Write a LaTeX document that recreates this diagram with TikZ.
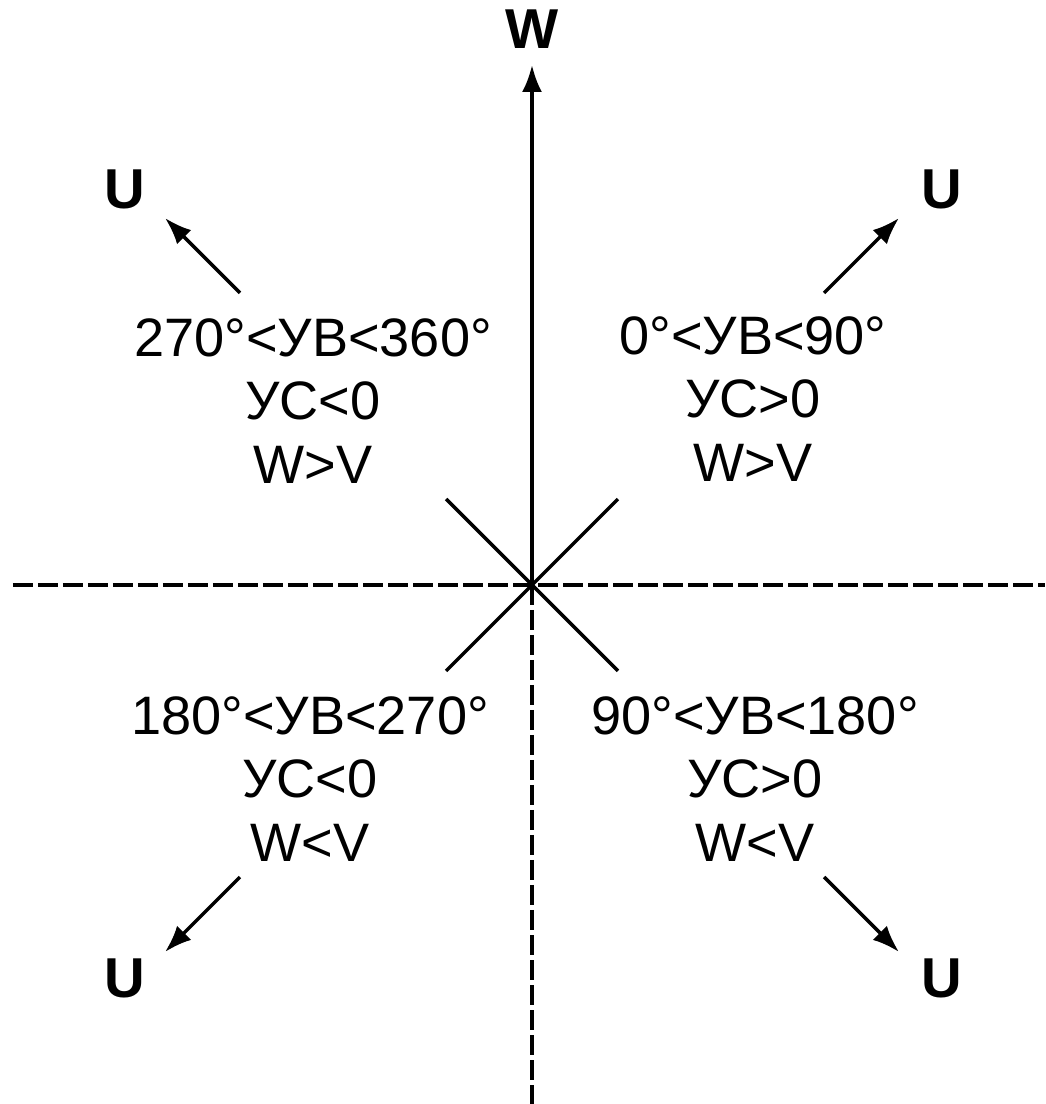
\documentclass[tikz,border=0pt]{standalone}
\usepackage{fontspec}
\setmainfont{Liberation Sans}
\usetikzlibrary{arrows.meta}

\begin{document}
\begin{tikzpicture}[
    axis/.style={line width=1pt, dash pattern=on 0.2cm off 0.05cm},
    vec/.style={line width=1pt, -{Latex[length=0.27cm,width=0.2cm]}},
    diag/.style={line width=1pt},
    lbl/.style={font=\fontsize{16}{19}\selectfont\bfseries, inner sep=0pt},
    cond/.style={align=center, font=\fontsize{15.4}{18}\selectfont, inner sep=0pt}
  ]
    \useasboundingbox (-5.32,-5.19) rectangle (5.13,5.85);
    \def\D{1.216}  % half length of the diagonals
    \def\Ra{4.13}  % tail of the U arrows
    \def\Rb{5.19}  % tip of the U arrows

    \coordinate (O) at (0,0);
    \coordinate (Xl) at (-5.19,0);
    \coordinate (Xr) at (5.13,0);
    \coordinate (Yb) at (0,-5.19);
    \coordinate (Wtip) at (0,5.20);

    % Axes
    \draw[axis] (Xl) -- (Xr);
    \draw[axis] (O) -- (Yb);
    \draw[vec] (O) -- (Wtip);
    \node[lbl] (W) at (0,5.56) {W};

    % Quadrants: diagonal, U arrow and conditions
    \foreach \a/\ux/\uy/\tx/\ty/\txt in {
        45/4.10/3.96/2.21/1.86/{0°<УВ<90°\\УС>0\\W>V},
        135/-4.07/3.96/-2.19/1.84/{270°<УВ<360°\\УС<0\\W>V},
        225/-4.07/-3.93/-2.22/-1.94/{180°<УВ<270°\\УС<0\\W<V},
        315/4.10/-3.93/2.23/-1.94/{90°<УВ<180°\\УС>0\\W<V}} {
        \coordinate (D\a) at (\a:\D);
        \coordinate (Ut\a) at (\a:\Ra);
        \coordinate (Uh\a) at (\a:\Rb);

        \draw[diag] (O) -- (D\a);
        \draw[vec] (Ut\a) -- (Uh\a);
        \node[lbl] (U\a) at (\ux,\uy) {U};
        \node[cond] (C\a) at (\tx,\ty) {\txt};
    }
\end{tikzpicture}
\end{document}
